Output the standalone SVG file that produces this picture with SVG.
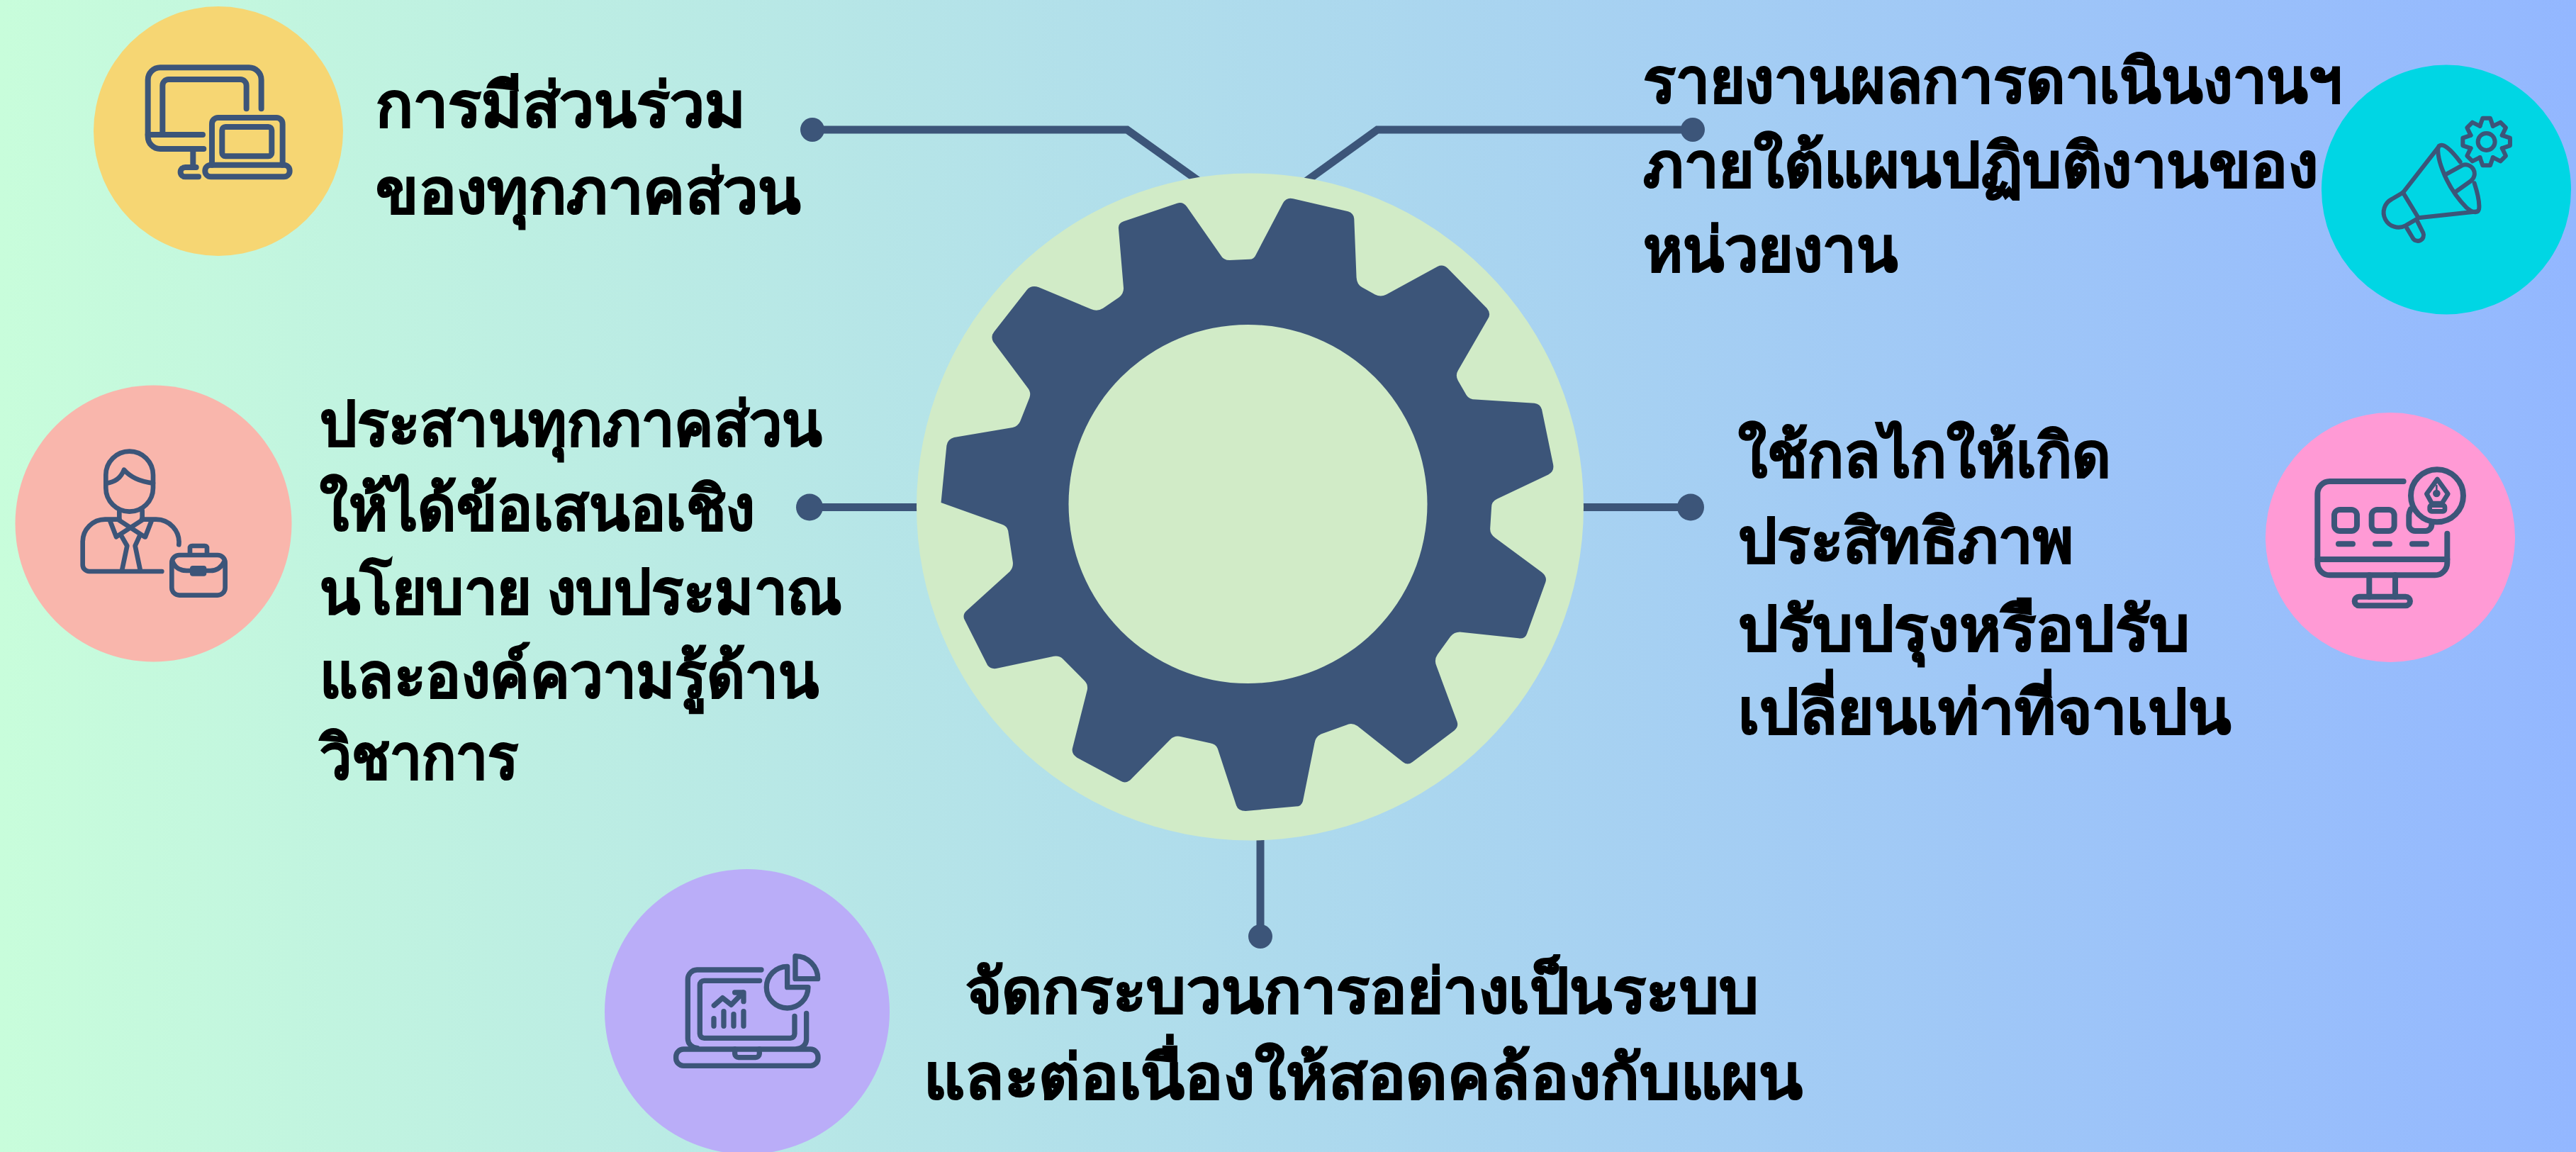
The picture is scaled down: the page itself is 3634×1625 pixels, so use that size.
<svg xmlns="http://www.w3.org/2000/svg" xmlns:xlink="http://www.w3.org/1999/xlink" width="3634" height="1625" viewBox="0 0 3634 1625">
<style>
.t{font-family:"Noto Sans","Noto Sans CJK SC","DejaVu Sans",sans-serif;font-weight:700;font-size:86px;fill:#000;stroke:#000;stroke-width:1.5}
.ln{fill:none;stroke:#3C5579;stroke-linecap:round;stroke-linejoin:round}
.c{fill:none;stroke:#3C5579;stroke-width:11}
.d{fill:#3C5579}
</style>
<defs>
<linearGradient id="bg" x1="0" x2="1" y1="0" y2="0"><stop offset="0" stop-color="#C8FDDB"/><stop offset="1" stop-color="#93B7FF"/></linearGradient>
<path id="tooth" d="M-27.5,-66.5 L-16,-100 H16 L27.5,-66.5"/>
</defs>
<rect width="3634" height="1625" fill="url(#bg)"/>
<g id="connectors">
<path class="c" d="M1146,183 H1590 L1692,256"/>
<path class="c" d="M2388,183 H1943 L1842,256"/>
<path class="c" d="M1140,715.5 H1300"/>
<path class="c" d="M2230,715.5 H2385"/>
<path class="c" d="M1778,1180 V1321"/>
<circle class="d" cx="1146" cy="183" r="17"/>
<circle class="d" cx="2388" cy="183" r="17"/>
<circle class="d" cx="1142" cy="715.5" r="19"/>
<circle class="d" cx="2385" cy="715.5" r="19"/>
<circle class="d" cx="1778" cy="1321" r="17"/>
</g>
<g id="gear">
<circle cx="1763.5" cy="715" r="470.5" fill="#D1EBC7"/>
<path transform="translate(1250,200) scale(.657,.6378)" fill="#3C5579" d="M499,190 Q499,180 510,176 L625,136 Q638,132 646,144 L718,250 Q724,262 738,262 L780,260 Q790,260 794,250 L852,136 Q860,122 874,126 L992,154 Q1004,158 1005,170 L1010,300 Q1011,316 1022,322 L1050,338 Q1062,344 1074,338 L1184,276 Q1196,270 1206,280 L1290,368 Q1300,380 1292,392 L1228,506 Q1222,516 1228,528 L1246,560 Q1252,570 1266,570 L1392,578 Q1405,580 1408,592 L1432,712 Q1436,728 1422,736 L1312,790 Q1300,796 1300,808 L1297,856 Q1297,868 1308,876 L1408,952 Q1420,962 1416,974 L1376,1088 Q1372,1100 1358,1098 L1232,1084 Q1220,1084 1212,1094 L1184,1134 Q1176,1146 1182,1160 L1226,1282 Q1230,1294 1220,1302 L1130,1372 Q1120,1380 1110,1372 L1012,1292 Q1000,1284 988,1290 L934,1310 Q922,1316 920,1330 L895,1458 Q892,1470 880,1470 L772,1480 Q756,1480 752,1468 L712,1342 Q708,1332 696,1330 L634,1316 Q620,1312 610,1322 L524,1412 Q514,1420 504,1414 L410,1362 Q398,1354 400,1342 L432,1212 Q434,1200 426,1192 L380,1144 Q372,1136 360,1138 L240,1164 Q226,1168 218,1158 L168,1056 Q164,1046 172,1038 L266,950 Q274,940 272,928 L262,860 Q260,850 248,846 L118,798 L130,672 Q132,658 146,654 L272,632 Q284,628 288,618 L308,566 Q312,554 304,544 L230,442 Q224,430 232,420 L302,328 Q312,316 328,322 L440,370 Q454,376 466,368 L500,344 Q510,336 510,324 Z"/>
<circle cx="1760.5" cy="711" r="253" fill="#D1EBC7"/>
</g>
<g id="node-participation">
<circle cx="308" cy="185" r="176" fill="#F6D673"/>
<g class="ln" stroke-width="24" transform="translate(100,0) scale(.3333)">
<path d="M806,460 V338 A52,52 0 0 0 754,286 H378 A52,52 0 0 0 326,338 V578 A52,52 0 0 0 378,630 H562"/>
<path d="M743,460 V362 A26,26 0 0 0 717,336 H414 A26,26 0 0 0 388,362 V570"/>
<path d="M326,570 H558 M517,630 V708 M530,708 H484 A20,20 0 0 0 484,748 H540"/>
<path d="M597,698 V525 A26,26 0 0 1 623,498 H870 A26,26 0 0 1 896,525 V698"/>
<rect x="640" y="537" width="210" height="124" rx="14"/>
<rect x="568" y="698" width="358" height="50" rx="24"/>
</g>
<text class="t" x="530" y="178" textLength="522" lengthAdjust="spacingAndGlyphs">การมีส่วนร่วม</text>
<text class="t" x="530" y="300" textLength="600" lengthAdjust="spacingAndGlyphs">ของทุกภาคส่วน</text>
</g>
<g id="node-report">
<circle cx="3451" cy="267.5" r="176" fill="#00D6E4"/>
<g class="ln" stroke-width="18" transform="translate(3250,80) scale(.3333)">
<path d="M420,575 L568,385"/>
<path d="M662,445 C620,390 590,365 572,378 C555,400 590,540 690,640 C720,665 745,665 742,630 C742,600 730,560 722,535"/>
<path d="M735,655 L485,682 M420,575 L485,682"/>
<path d="M420,575 L372,603 A62,62 0 0 0 430,715 L480,686"/>
<path d="M436,725 L460,765 A24,24 0 0 0 505,745 L480,695"/>
<path d="M602,498 L670,460 A38,38 0 0 1 708,525 L645,570"/>
<circle cx="773" cy="360" r="36"/>
<g transform="translate(773,360)">
<use xlink:href="#tooth"/><use xlink:href="#tooth" transform="rotate(45)"/><use xlink:href="#tooth" transform="rotate(90)"/><use xlink:href="#tooth" transform="rotate(135)"/><use xlink:href="#tooth" transform="rotate(180)"/><use xlink:href="#tooth" transform="rotate(225)"/><use xlink:href="#tooth" transform="rotate(270)"/><use xlink:href="#tooth" transform="rotate(315)"/>
</g>
</g>
<text class="t" x="2318" y="144" textLength="986" lengthAdjust="spacingAndGlyphs">รายงานผลการดาเนินงานฯ</text>
<text class="t" x="2318" y="263" textLength="952" lengthAdjust="spacingAndGlyphs">ภายใต้แผนปฏิบติงานของ</text>
<text class="t" x="2318" y="382" textLength="359" lengthAdjust="spacingAndGlyphs">หน่วยงาน</text>
</g>
<g id="node-coordinate">
<circle cx="216.5" cy="738.5" r="195" fill="#F9B6AC"/>
<g class="ln" stroke-width="20" transform="translate(0,530) scale(.3333)">
<rect x="448" y="320" width="200" height="255" rx="100"/>
<path d="M448,455 Q505,450 525,398 Q565,445 648,455"/>
<path d="M505,570 V605 M602,570 V605"/>
<path d="M505,608 H445 A95,95 0 0 0 350,703 V800 A28,28 0 0 0 378,828 H685"/>
<path d="M600,608 H660 A97,97 0 0 1 757,715"/>
<path d="M505,612 L612,682 M600,612 L492,682 M465,612 L492,682 M642,612 L615,682"/>
<path d="M515,680 L538,720 L516,825 M590,680 L572,720 L594,825"/>
<rect x="727" y="759" width="226" height="170" rx="32"/>
<path d="M804,755 V730 Q804,720 814,720 H866 Q876,720 876,730 V755"/>
<path d="M730,785 Q745,825 790,825 H890 Q930,825 950,785"/>
<rect x="804" y="804" width="70" height="44" rx="12" fill="#3C5579" stroke="none"/>
</g>
<text class="t" x="451" y="628" textLength="709" lengthAdjust="spacingAndGlyphs">ประสานทุกภาคส่วน</text>
<text class="t" x="451" y="747" textLength="614" lengthAdjust="spacingAndGlyphs">ให้ได้ข้อเสนอเชิง</text>
<text class="t" x="451" y="865" textLength="737" lengthAdjust="spacingAndGlyphs">นโยบาย งบประมาณ</text>
<text class="t" x="451" y="983" textLength="704" lengthAdjust="spacingAndGlyphs">และองค์ความรู้ด้าน</text>
<text class="t" x="451" y="1098" textLength="280" lengthAdjust="spacingAndGlyphs">วิชาการ</text>
</g>
<g id="node-mechanism">
<circle cx="3372" cy="758" r="176" fill="#FF9AD5"/>
<g class="ln" stroke-width="24" transform="translate(3180,570) scale(.3333)">
<path d="M632,327 H320 A52,52 0 0 0 268,379 V672 A52,52 0 0 0 320,724 H765 A52,52 0 0 0 817,672 V548"/>
<path d="M268,657 H817 M487,724 V815 M597,724 V815"/>
<rect x="425" y="815" width="235" height="38" rx="19"/>
<rect x="339" y="447" width="96" height="90" rx="24"/>
<rect x="497" y="447" width="96" height="90" rx="24"/>
<path d="M662,445 Q655,460 655,470 V510 A26,26 0 0 0 681,537 H725 A26,26 0 0 0 751,510"/>
<path d="M357,592 H417 M513,592 H573 M669,592 H729"/>
<circle cx="774" cy="388" r="111"/>
<path stroke-width="20" d="M775,318 L820,380 L795,420 H752 L730,380 Z"/>
<rect stroke-width="20" x="743" y="428" width="64" height="26" rx="8"/>
<path stroke-width="8" d="M772,345 V378"/>
<circle cx="772" cy="378" r="16" fill="#3C5579" stroke="none"/>
</g>
<text class="t" x="2452" y="672" textLength="526" lengthAdjust="spacingAndGlyphs">ใช้กลไกให้เกิด</text>
<text class="t" x="2452" y="793" textLength="473" lengthAdjust="spacingAndGlyphs">ประสิทธิภาพ</text>
<text class="t" x="2452" y="917" textLength="637" lengthAdjust="spacingAndGlyphs">ปรับปรุงหรือปรับ</text>
<text class="t" x="2452" y="1034" textLength="695" lengthAdjust="spacingAndGlyphs">เปลี่ยนเท่าที่จาเปน</text>
</g>
<g id="node-process">
<circle cx="1054" cy="1427" r="201" fill="#BAADF8"/>
<g class="ln" stroke-width="22" transform="translate(840,1220) scale(.3333)">
<path d="M702,444 H430 A40,40 0 0 0 391,484 V735 A40,40 0 0 0 431,775"/>
<path d="M893,628 V740 A40,40 0 0 1 855,778"/>
<path d="M695,490 H460 A18,18 0 0 0 442,508 V715 A18,18 0 0 0 460,733 H825 A18,18 0 0 0 843,715 V640"/>
<rect x="341" y="780" width="601" height="70" rx="32"/>
<path d="M590,780 V800 A16,16 0 0 0 606,815 H678 A16,16 0 0 0 694,800 V780"/>
<path d="M812,430 A88,88 0 1 0 900,518 H812 Z"/>
<path d="M846,386 A95,95 0 0 1 941,482 H846 Z"/>
<path d="M502,595 L538,563 L575,592 L625,540 M590,540 H627 V578"/>
<path d="M501,650 V682 M543,620 V682 M585,632 V682 M627,620 V682"/>
</g>
<text class="t" x="1362" y="1428" textLength="1119" lengthAdjust="spacingAndGlyphs">จัดกระบวนการอย่างเป็นระบบ</text>
<text class="t" x="1303" y="1549" textLength="1240" lengthAdjust="spacingAndGlyphs">และต่อเนื่องให้สอดคล้องกับแผน</text>
</g>
</svg>
